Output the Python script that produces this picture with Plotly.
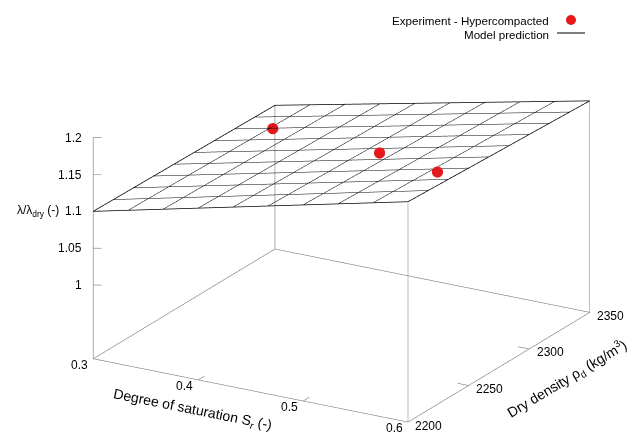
import plotly.graph_objects as go
import numpy as np

# ---- data ----
sr_range = [0.3, 0.6]
rho_range = [2200, 2350]
z_range = [0.9, 1.2]

# model surface corner values (rows: rho 2200, 2350; cols: Sr 0.3, 0.6)
model_sr = [0.3, 0.6]
model_rho = [2200, 2350]
model_z = [[1.100, 1.199],
           [1.095, 1.187]]

exp_sr = [0.337, 0.485, 0.576]
exp_rho = [2316, 2276, 2245]
exp_z = [1.108, 1.157, 1.188]

x_ticks = [0.3, 0.4, 0.5, 0.6]
y_ticks = [2200, 2250, 2300, 2350]
z_ticks = [1.0, 1.05, 1.1, 1.15, 1.2]
z_ticklabels = ["1", "1.05", "1.1", "1.15", "1.2"]

FONT = "Liberation Sans, Arial, sans-serif"
GREY = "#7a7a7a"
RED = "#e5191b"

fig = go.Figure()

# model prediction wireframe (10 x 10 isolines)
n_iso = 10
fig.add_trace(go.Surface(
    x=model_sr, y=model_rho, z=model_z,
    hidesurface=True, showscale=False,
    colorscale=[[0, "black"], [1, "black"]],
    contours=dict(
        x=dict(show=True, start=sr_range[0], end=sr_range[1] + 1e-6,
               size=(sr_range[1] - sr_range[0]) / (n_iso - 1), color="black", width=2,
               highlight=False),
        y=dict(show=True, start=rho_range[0], end=rho_range[1] + 1e-6,
               size=(rho_range[1] - rho_range[0]) / (n_iso - 1), color="black", width=2,
               highlight=False),
        z=dict(show=False, highlight=False),
    ),
    hoverinfo="skip", showlegend=False, name="Model prediction",
))

# surface outline
zs = np.array(model_z)
fig.add_trace(go.Scatter3d(
    x=[model_sr[0], model_sr[1], model_sr[1], model_sr[0], model_sr[0]],
    y=[model_rho[0], model_rho[0], model_rho[1], model_rho[1], model_rho[0]],
    z=[zs[0, 0], zs[0, 1], zs[1, 1], zs[1, 0], zs[0, 0]],
    mode="lines", line=dict(color="black", width=1.5),
    hoverinfo="skip", showlegend=False))

# box: base rectangle
x0, x1 = sr_range
y0, y1 = rho_range
zb, zt = z_range
fig.add_trace(go.Scatter3d(
    x=[x0, x1, x1, x0, x0], y=[y0, y0, y1, y1, y0], z=[zb] * 5,
    mode="lines", line=dict(color=GREY, width=1.2), hoverinfo="skip", showlegend=False))
# z axis and verticals up to surface corners
vx, vy, vz = [], [], []
for (xx, yy, ztop) in [(x0, y0, zt), (x1, y0, zs[0, 1]), (x1, y1, zs[1, 1]), (x0, y1, zs[1, 0])]:
    vx += [xx, xx, None]; vy += [yy, yy, None]; vz += [zb, ztop, None]
# ticks
tl = 0.035
for t in x_ticks[1:-1]:
    vx += [t, t, None]; vy += [y0, y0 + tl * (y1 - y0), None]; vz += [zb, zb, None]
for t in y_ticks[1:-1]:
    vx += [x1, x1 - tl * (x1 - x0), None]; vy += [t, t, None]; vz += [zb, zb, None]
for t in z_ticks:
    vx += [x0, x0 + 0.02 * (x1 - x0), None]; vy += [y0, y0 + 0.02 * (y1 - y0) * 0.577, None]; vz += [t, t, None]
fig.add_trace(go.Scatter3d(x=vx, y=vy, z=vz, mode="lines",
                           line=dict(color=GREY, width=1.2), hoverinfo="skip", showlegend=False))

# experimental points
fig.add_trace(go.Scatter3d(
    x=exp_sr, y=exp_rho, z=exp_z, mode="markers",
    marker=dict(size=6.5, color=RED, line=dict(width=0)),
    name="Experiment - Hypercompacted", showlegend=False))

# annotations in scene coordinates
tick_font = dict(size=12, family=FONT, color="black")
title_font = dict(size=14, family=FONT, color="black")
ann = []
for t in x_ticks:
    ann.append(dict(x=t, y=y0, z=zb, text=f"{t:g}", showarrow=False,
                    xanchor="center", yanchor="middle", xshift=-13.5, yshift=-6, font=tick_font))
for t in y_ticks:
    ann.append(dict(x=x1, y=t, z=zb, text=f"{t}", showarrow=False,
                    xanchor="center", yanchor="middle", xshift=21, yshift=-3.5, font=tick_font))
for t, lab in zip(z_ticks, z_ticklabels):
    ann.append(dict(x=x0, y=y0, z=t, text=lab, showarrow=False, xanchor="right", yanchor="middle",
                    xshift=-9, font=tick_font))
ann.append(dict(x=x0, y=y0, z=1.1, text="λ/λ<sub>dry</sub> (-)", showarrow=False, xanchor="right",
                yanchor="middle", xshift=-32, font=tick_font))
ann.append(dict(x=0.395, y=y0, z=zb, text="Degree of saturation S<sub><i>r</i></sub> (-)", showarrow=False,
                xanchor="center", yanchor="middle", yshift=-31, textangle=11.4, font=title_font))
ann.append(dict(x=x1, y=2312, z=zb, text="Dry density ρ<sub>d</sub> (kg/m<sup>3</sup>)", showarrow=False,
                xanchor="center", yanchor="middle", xshift=23, yshift=-39, textangle=-31,
                font=title_font))

d = 2.0
k = 1.745
eps_x, eps_y, eps_z = 0.0005, 0.25, 0.0005
legend_font = dict(size=11.6, family=FONT, color="black")
fig.update_layout(
    width=630, height=434,
    margin=dict(l=0, r=0, t=0, b=0),
    paper_bgcolor="white",
    font=dict(family=FONT, size=12, color="black"),
    showlegend=False,
    scene=dict(
        domain=dict(x=[0.084, 1.0], y=[0.0, 0.963]),
        xaxis=dict(range=[x0 - eps_x, x1 + eps_x], autorange=False, visible=False),
        yaxis=dict(range=[y0 - eps_y, y1 + eps_y], autorange=False, visible=False),
        zaxis=dict(range=[zb - eps_z, zt + eps_z], autorange=False, visible=False),
        aspectmode="manual", aspectratio=dict(x=k, y=k, z=0.649 * k),
        camera=dict(eye=dict(x=0.4687 * d, y=-0.8118 * d, z=0.3486 * d),
                    center=dict(x=0, y=0, z=0), up=dict(x=0, y=0, z=1),
                    projection=dict(type="orthographic")),
        annotations=ann,
        bgcolor="white",
    ),
    annotations=[
        dict(xref="paper", yref="paper", x=551 / 630, y=1 - 20 / 434, text="Experiment - Hypercompacted",
             showarrow=False, xanchor="right", yanchor="middle", font=legend_font),
        dict(xref="paper", yref="paper", x=551 / 630, y=1 - 34 / 434, text="Model prediction",
             showarrow=False, xanchor="right", yanchor="middle", font=legend_font),
    ],
    shapes=[
        dict(type="circle", xref="paper", yref="paper", x0=566 / 630, x1=576 / 630,
             y0=1 - 25 / 434, y1=1 - 15 / 434, fillcolor=RED, line=dict(width=0)),
        dict(type="line", xref="paper", yref="paper", x0=557 / 630, x1=585 / 630,
             y0=1 - 33 / 434, y1=1 - 33 / 434, line=dict(color="black", width=1)),
    ],
)

fig.write_html("out.html", config={"displayModeBar": False},
               post_script="document.body.style.margin='0px';")
